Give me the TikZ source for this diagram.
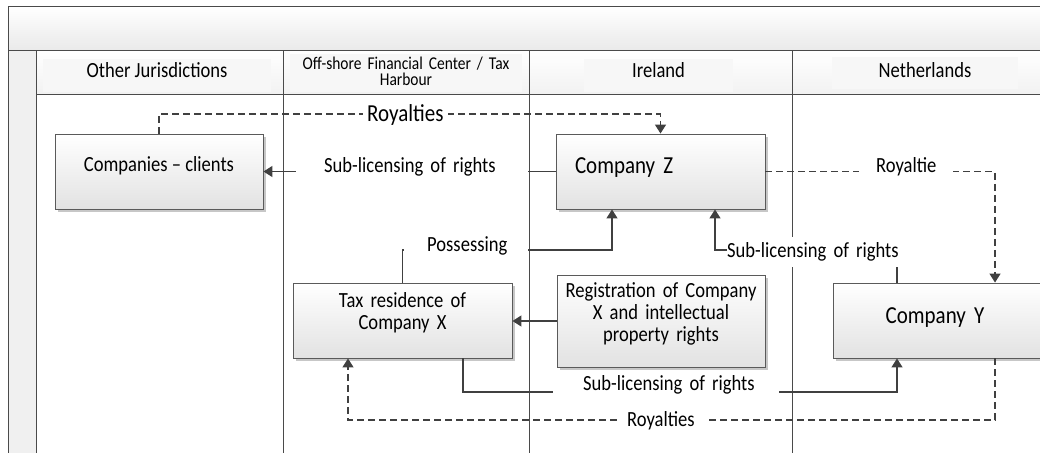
\documentclass[tikz,border=0pt]{standalone}
\usepackage{fontspec}
\setmainfont{Carlito}[FakeStretch=0.86]
\usetikzlibrary{arrows.meta,shadows,calc}
\definecolor{ln}{HTML}{404040}
\definecolor{bd}{HTML}{5A5A5A}
\definecolor{pl}{HTML}{4A4A4A}
\definecolor{boxbot}{HTML}{E2E2E2}
\definecolor{hdr}{HTML}{F7F7F7}
\definecolor{band}{HTML}{E9E9E9}
\newcommand{\fbase}{\fontsize{21.6}{22}\selectfont}
\newcommand{\fbig}{\fontsize{24.4}{26}\selectfont}
\newcommand{\fsmall}{\fontsize{18}{16.5}\selectfont\lineskiplimit=-30pt\relax}
\begin{document}
\begin{tikzpicture}[x=1pt,y=-1pt,
  pool/.style={draw=pl, line width=1pt},
  box/.style={draw=bd, line width=0.9pt, top color=white, bottom color=boxbot,
     drop shadow={shadow xshift=2.5pt, shadow yshift=-2.5pt, fill=black!22, opacity=1},
     inner sep=0pt, font=\fbase, align=center},
  hlab/.style={fill=hdr, inner sep=0pt, font=\fbase},
  conn/.style={draw=ln, line width=1.4pt, -{Triangle[length=9pt,width=11pt]}},
  dconn/.style={conn, dash pattern=on 7pt off 4pt},
  lab/.style={fill=white, inner xsep=0pt, inner ysep=1pt, font=\fbase, align=left, anchor=base west},
]
\useasboundingbox (0,0) rectangle (1040,452);
\clip (0,0) rectangle (1040,452);
% pool background
\shade[top color=white, bottom color=band] (8,7) rectangle (1050,51);
\shade[top color=white, bottom color=band!60] (36,51) rectangle (1050,94);
\fill[black!6] (8,51) rectangle (36,460);
% header labels
\node[hlab, minimum width=228, minimum height=33, text height=14, text depth=10.4] (hOJ) at (157,75.5) {Other Jurisdictions};
\node[hlab, font=\fsmall, minimum width=232, minimum height=37, text width=232, align=center, text height=14, text depth=21] (hOF) at (406,73) {\fsmall Off-shore Financial Center / Tax\\Harbour};
\node[hlab, minimum width=149, minimum height=33, text height=14, text depth=9.6] (hIE) at (658.5,75.5) {Ireland};
\node[hlab, minimum width=186, minimum height=32, text height=14, text depth=6] (hNL) at (925,73) {Netherlands};
% pool lines
\draw[pool] (8,7) rectangle (1050,460);
\draw[pool] (8,51) -- (1050,51);
\draw[pool] (36,51) -- (36,460);
\draw[pool] (36,94) -- (1050,94);
\foreach \xx in {283,529,792} \draw[pool] (\xx,51) -- (\xx,460);
% boxes
\node[box, minimum width=208, minimum height=75, text height=14, text depth=15] (clients) at (159,171.5) {Companies -- clients};
\node[box, minimum width=209, minimum height=75, text width=171, align=left, font=\fbig, text height=16, text depth=13] (Z) at (660.5,171.5) {Company Z};
\node[box, minimum width=219, minimum height=75, text width=219, text height=14, text depth=41] (taxres) at (402.5,320.5) {\fbase Tax residence of\\Company X};
\node[box, minimum width=208, minimum height=92, text width=208, text height=14, text depth=62] (reg) at (661,321) {\fbase Registration of Company\\X and intellectual\\property rights};
\node[box, minimum width=216, minimum height=75, text width=216, align=left, font=\fbig, text height=16, text depth=11] (Y) at (941,320.5) {\hspace*{52.7pt}Company Y};
% helper coordinates
\coordinate (cR1) at (0,114);
\coordinate (cP) at (612,250);
\coordinate (cS2) at (715,250);
\coordinate (cS2b) at (897,250);
\coordinate (cR2) at (995,0);
\coordinate (cS3a) at (463,392);
\coordinate (cS3b) at (897,392);
\coordinate (cR3a) at (995,420);
\coordinate (cR3b) at (348,420);
% connectors
\draw[dconn] (clients.north) |- (cR1 -| Z.north) -- (Z.north);
\draw[conn] (Z.west) -- (clients.east);
\draw[conn] (taxres.north) |- (cP) -- (cP |- Z.south);
\draw[conn] (cS2b |- Y.north) -- (cS2b) -- (cS2) -- (cS2 |- Z.south);
\draw[dconn] (Z.east) -| (cR2 |- Y.north);
\draw[conn] (reg.west) -- (reg.west -| taxres.east);
\draw[conn] (cS3a |- taxres.south) -- (cS3a) -- (cS3b) -- (cS3b |- Y.south);
\draw[dconn] (cR3a |- Y.south) -- (cR3a) -- (cR3b) -- (cR3b |- taxres.south);
% labels
\node[lab, font=\fbig, text width=85] (lR1) at (363,121.7) {\hspace*{4pt}Royalties};
\node[lab, text width=232] (lS1) at (296,172) {\hspace*{28pt}Sub-licensing of rights};
\node[lab, text width=124] (lP) at (404,251.7) {\hspace*{23pt}Possessing};
\node[lab, text width=180, text height=19, text depth=9] (lS2) at (727,257) {Sub-licensing of rights};
\node[lab, text width=94] (lR2) at (859,172.3) {\hspace*{17pt}Royaltie};
\node[lab, text width=226] (lS3) at (553,390.7) {\hspace*{30pt}Sub-licensing of rights};
\node[lab, text width=91] (lR3) at (617,426) {\hspace*{10pt}Royalties};
\end{tikzpicture}
\end{document}
